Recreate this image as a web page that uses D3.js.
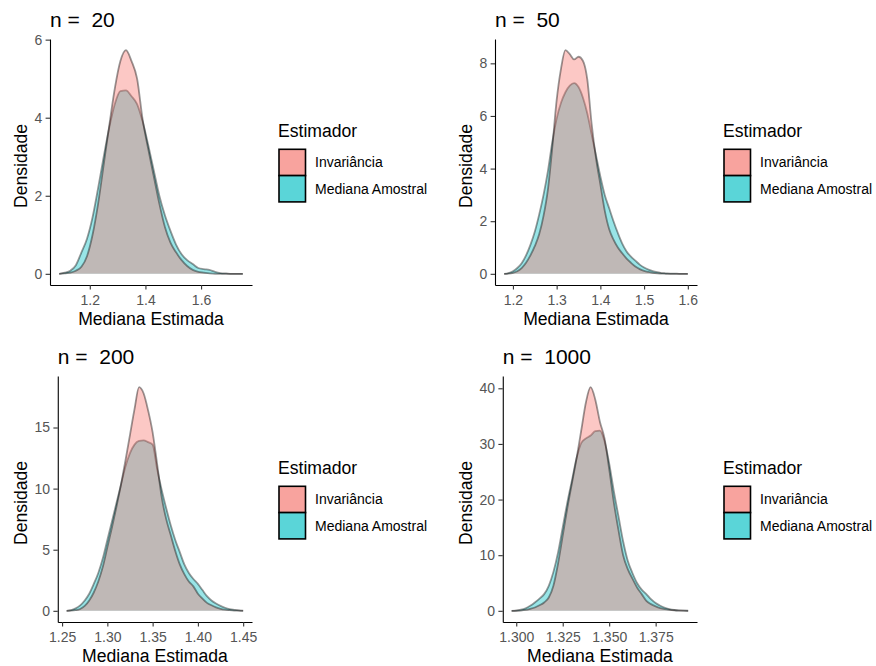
<!DOCTYPE html>
<html>
<head>
<meta charset="utf-8">
<script src="https://cdn.jsdelivr.net/npm/d3@7"></script>
<style>
  body { margin: 0; background: #fff; }
  svg { display: block; font-family: "Liberation Sans", Arial, sans-serif; }
</style>
</head>
<body>
<svg id="chart" width="876" height="666"></svg>
<script>
// sample sizes for the four panels and legend categories
var sampleSizes = [20, 50, 200, 1000];
var estimators = ["Invariância", "Mediana Amostral"];
var fillColors = ["#F8766D", "#00BFC4"];
var keyColors = ["#F8A39E", "#5AD5D8"];

// n = 20
var gridN20 = [1.09, 1.11, 1.13, 1.15, 1.17, 1.19, 1.21, 1.23, 1.25, 1.27, 1.29, 1.31, 1.33, 1.35, 1.37, 1.39, 1.41,
    1.43, 1.45, 1.47, 1.49, 1.51, 1.53, 1.55, 1.57, 1.59, 1.61, 1.63, 1.65, 1.67, 1.69, 1.71, 1.73, 1.75];
var invN20 = [0, 0.01, 0.03, 0.08, 0.18, 0.45, 1.0, 1.8, 2.8, 3.8, 4.75, 5.45, 5.73, 5.45, 5.0, 3.95, 3.2,
    2.5, 1.8, 1.2, 0.8, 0.55, 0.35, 0.2, 0.1, 0.05, 0.03, 0.01, 0, 0, 0, 0, 0, 0];
var medN20 = [0, 0.03, 0.08, 0.22, 0.55, 0.9, 1.45, 2.2, 3.0, 3.75, 4.35, 4.68, 4.7, 4.55, 4.35, 3.9, 3.3,
    2.65, 2.0, 1.5, 1.1, 0.75, 0.5, 0.35, 0.25, 0.15, 0.12, 0.1, 0.05, 0.02, 0.01, 0, 0, 0];
var xTicksN20 = [1.2, 1.4, 1.6];
var yTicksN20 = [0, 2, 4, 6];

// n = 50
var gridN50 = [1.18, 1.19, 1.20, 1.21, 1.22, 1.23, 1.24, 1.25, 1.26, 1.27, 1.28, 1.29, 1.30, 1.31, 1.32, 1.33,
    1.34, 1.35, 1.36, 1.37, 1.38, 1.39, 1.40, 1.41, 1.42, 1.43, 1.44, 1.45, 1.46, 1.47, 1.48, 1.49, 1.50, 1.51,
    1.52, 1.53, 1.54, 1.55, 1.56, 1.57, 1.58, 1.59, 1.60];
var invN50 = [0, 0.01, 0.04, 0.10, 0.22, 0.42, 0.70, 1.05, 1.50, 2.20, 3.20, 4.80, 6.60, 7.80, 8.50, 8.35,
    8.15, 8.25, 8.10, 7.40, 5.70, 4.40, 3.40, 2.40, 1.70, 1.30, 1.00, 0.78, 0.58, 0.42, 0.28, 0.18, 0.11, 0.07,
    0.04, 0.02, 0.01, 0, 0, 0, 0, 0, 0];
var medN50 = [0, 0.03, 0.10, 0.22, 0.40, 0.70, 1.10, 1.60, 2.25, 3.00, 3.90, 5.00, 5.90, 6.50, 6.90, 7.15,
    7.25, 7.10, 6.70, 6.10, 5.30, 4.50, 3.70, 3.00, 2.50, 2.00, 1.55, 1.15, 0.85, 0.65, 0.50, 0.35, 0.24, 0.16,
    0.10, 0.06, 0.03, 0.02, 0.01, 0.01, 0, 0, 0];
var xTicksN50 = [1.2, 1.3, 1.4, 1.5, 1.6];
var yTicksN50 = [0, 2, 4, 6, 8];

// n = 200
var gridN200 = [1.255, 1.260, 1.265, 1.270, 1.275, 1.280, 1.285, 1.290, 1.295, 1.300, 1.305, 1.310, 1.315,
    1.320, 1.325, 1.330, 1.335, 1.340, 1.345, 1.350, 1.355, 1.360, 1.365, 1.370, 1.375, 1.380, 1.385, 1.390,
    1.395, 1.400, 1.405, 1.410, 1.415, 1.420, 1.425, 1.430, 1.435, 1.440, 1.445, 1.450];
var invN200 = [0, 0.01, 0.05, 0.15, 0.40, 0.85, 1.50, 2.40, 3.60, 5.20, 6.80, 8.50, 10.30,
    12.30, 14.40, 16.50, 18.30, 17.80, 16.40, 14.60, 12.00, 9.30, 7.50, 6.20, 4.90, 3.80, 3.00, 2.40,
    2.00, 1.40, 1.00, 0.65, 0.45, 0.28, 0.16, 0.09, 0.05, 0.02, 0.01, 0];
var medN200 = [0, 0.05, 0.20, 0.45, 0.85, 1.40, 2.20, 3.10, 4.30, 5.80, 7.30, 8.80, 10.30,
    11.80, 12.90, 13.60, 13.90, 13.95, 13.80, 13.60, 11.60, 9.90, 8.40, 7.00, 5.80, 4.80, 3.80, 3.10,
    2.60, 2.20, 1.70, 1.20, 0.85, 0.60, 0.40, 0.25, 0.14, 0.08, 0.03, 0.01];
var xTicksN200 = [1.25, 1.30, 1.35, 1.40, 1.45];
var yTicksN200 = [0, 5, 10, 15];

// n = 1000
var gridN1000 = [1.2975, 1.3000, 1.3025, 1.3050, 1.3075, 1.3100, 1.3125, 1.3150, 1.3175, 1.3200, 1.3225,
    1.3250, 1.3275, 1.3300, 1.3325, 1.3350, 1.3375, 1.3400, 1.3425, 1.3450, 1.3475, 1.3500, 1.3525, 1.3550,
    1.3575, 1.3600, 1.3625, 1.3650, 1.3675, 1.3700, 1.3725, 1.3750, 1.3775, 1.3800, 1.3825, 1.3850, 1.3875,
    1.3900, 1.3925];
var invN1000 = [0, 0.01, 0.05, 0.15, 0.35, 0.60, 1.00, 1.50, 2.40, 4.50, 8.50,
    13.50, 18.50, 23.00, 27.50, 32.50, 37.50, 40.20, 38.00, 34.00, 31.00, 25.50, 19.50, 14.50,
    10.00, 7.50, 5.80, 4.20, 3.00, 1.80, 1.20, 0.80, 0.50, 0.30, 0.18, 0.10, 0.05,
    0.02, 0];
var medN1000 = [0, 0.05, 0.20, 0.45, 0.90, 1.50, 2.20, 3.00, 4.50, 7.00, 10.50,
    15.00, 19.50, 23.50, 27.50, 30.20, 31.00, 31.50, 32.30, 32.40, 30.50, 26.50, 21.50, 17.00,
    12.50, 9.00, 6.80, 5.00, 3.80, 3.00, 2.10, 1.40, 0.90, 0.55, 0.30, 0.15, 0.07,
    0.03, 0.01];
var xTicksN1000 = [1.300, 1.325, 1.350, 1.375];
var yTicksN1000 = [0, 10, 20, 30, 40];

var panels = [
    {n: sampleSizes[0], grid: gridN20, inv: invN20, med: medN20, xTicks: xTicksN20, yTicks: yTicksN20, fmt: ".1f", col: 0, row: 0},
    {n: sampleSizes[1], grid: gridN50, inv: invN50, med: medN50, xTicks: xTicksN50, yTicks: yTicksN50, fmt: ".1f", col: 1, row: 0},
    {n: sampleSizes[2], grid: gridN200, inv: invN200, med: medN200, xTicks: xTicksN200, yTicks: yTicksN200, fmt: ".2f", col: 0, row: 1},
    {n: sampleSizes[3], grid: gridN1000, inv: invN1000, med: medN1000, xTicks: xTicksN1000, yTicks: yTicksN1000, fmt: ".3f", col: 1, row: 1}
];

var colX = [0, 445];
var rowY = [0, 337];
var tickLen = 4.4;

var svg = d3.select("#chart");

function styleAxis(g) {
    g.attr("font-family", null).attr("font-size", null);
    g.select(".domain").attr("stroke", "#000").attr("stroke-width", 1.1);
    g.selectAll(".tick line").attr("stroke", "#333").attr("stroke-width", 1.1);
    g.selectAll(".tick text").attr("fill", "#555").attr("font-size", 14);
}

function drawPanel(p) {
    var g = svg.append("g").attr("transform", `translate(${colX[p.col]},${rowY[p.row]})`);

    // the plot area starts after the widest y tick label
    var probe = g.append("text").attr("font-size", 14);
    var labelW = d3.max(p.yTicks, function (t) {
        probe.text(String(t));
        return probe.node().getComputedTextLength();
    });
    probe.remove();

    var left = 42.2 + labelW, right = 252, top = 39, bottom = 285;

    var xExt = d3.extent(p.grid);
    var xPad = (xExt[1] - xExt[0]) * 0.05;
    var x = d3.scaleLinear().domain([xExt[0] - xPad, xExt[1] + xPad]).range([left, right]);
    var yMax = d3.max(p.inv.concat(p.med));
    var y = d3.scaleLinear().domain([-0.05 * yMax, 1.05 * yMax]).range([bottom, top]);

    var area = d3.area()
        .x(function (d) { return x(d[0]); })
        .y0(y(0))
        .y1(function (d) { return y(d[1]); })
        .curve(d3.curveMonotoneX);
    var line = d3.line()
        .x(function (d) { return x(d[0]); })
        .y(function (d) { return y(d[1]); })
        .curve(d3.curveMonotoneX);

    // Mediana Amostral underneath, Invariância on top
    var series = [
        {values: p.med, color: fillColors[1]},
        {values: p.inv, color: fillColors[0]}
    ];
    series.forEach(function (s) {
        var pts = p.grid.map(function (v, i) { return [v, s.values[i]]; });
        g.append("path").datum(pts)
            .attr("d", area)
            .attr("fill", s.color)
            .attr("fill-opacity", 0.4);
        g.append("path").datum(pts)
            .attr("d", line)
            .attr("fill", "none")
            .attr("stroke", "#000")
            .attr("stroke-opacity", 0.4)
            .attr("stroke-width", 1.8);
    });

    g.append("g")
        .attr("transform", `translate(0,${bottom})`)
        .call(d3.axisBottom(x).tickValues(p.xTicks).tickFormat(d3.format(p.fmt))
            .tickSize(tickLen).tickSizeOuter(0).tickPadding(5.5))
        .call(styleAxis);

    g.append("g")
        .attr("transform", `translate(${left},0)`)
        .call(d3.axisLeft(y).tickValues(p.yTicks).tickFormat(d3.format("d"))
            .tickSize(tickLen).tickSizeOuter(0).tickPadding(3.4))
        .call(styleAxis);

    // titles
    g.append("text")
        .attr("x", left).attr("y", 26.7)
        .attr("font-size", 21)
        .style("white-space", "pre")
        .text("n =  " + p.n);

    g.append("text")
        .attr("x", (left + right) / 2).attr("y", 325)
        .attr("text-anchor", "middle")
        .attr("font-size", 17.6)
        .text("Mediana Estimada");

    g.append("text")
        .attr("transform", `translate(27,${(top + bottom) / 2 + 4}) rotate(-90)`)
        .attr("text-anchor", "middle")
        .attr("font-size", 17.6)
        .text("Densidade");

    // legend
    var lg = g.append("g").attr("transform", "translate(279,0)");
    lg.append("text")
        .attr("x", -1).attr("y", 137)
        .attr("font-size", 17.6)
        .text("Estimador");
    estimators.forEach(function (name, i) {
        lg.append("rect")
            .attr("x", 0).attr("y", 149.3 + i * 26.3)
            .attr("width", 26.5).attr("height", 26.3)
            .attr("fill", keyColors[i])
            .attr("stroke", "#000")
            .attr("stroke-width", 1.6);
        lg.append("text")
            .attr("x", 36).attr("y", 149.3 + i * 26.3 + 13.15)
            .attr("dy", "0.35em")
            .attr("font-size", 14)
            .text(name);
    });
}

panels.forEach(drawPanel);
</script>
</body>
</html>
